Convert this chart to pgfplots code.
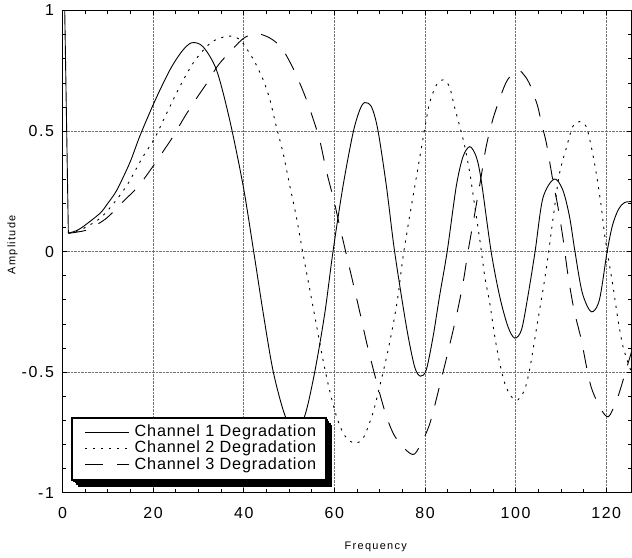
\documentclass[border=0pt]{standalone}
\usepackage{fontspec}
\setmainfont{Liberation Sans}
\usepackage{pgfplots}
\pgfplotsset{compat=1.18}
\usetikzlibrary{shadows}
\newfontfamily\tickfont[LetterSpace=10]{Liberation Sans}
\newfontfamily\legfont[LetterSpace=5]{Liberation Sans}
\newfontfamily\labfont[LetterSpace=12]{Liberation Sans}
\tikzset{legshadow/.style={drop shadow={shadow xshift=#1*1bp, shadow yshift=-#1*1.15bp, opacity=1, fill=black}}}
\makeatletter
\tikzset{nopre/.code={\let\tikz@preactions\pgfutil@empty}}
\makeatother
\begin{document}
\begin{tikzpicture}
\begin{axis}[
  at={(0,0)}, anchor=south west,
  scale only axis, width=569.5bp, height=482.4bp,
  xmin=0, xmax=125.6, ymin=-1, ymax=1,
  xtick={0,20,...,120}, ytick={-1,-0.5,0,0.5,1},
  minor x tick num=3, minor y tick num=4,
  grid=major, major grid style={densely dotted, black!55, line width=0.5bp},
  tick align=inside, major tick length=5bp, minor tick length=3.5bp,
  axis line style={line width=0.8bp},
  every tick/.style={black, line width=0.6bp},
  /pgf/number format/assume math mode=true,
  xticklabel style={font=\tickfont\fontsize{16}{16}\selectfont, yshift=-11bp},
  yticklabel style={font=\tickfont\fontsize{16}{16}\selectfont, xshift=-5bp},
  xlabel={Frequency}, ylabel={Amplitude},
  every axis x label/.style={at={(axis description cs:0.5505,0)}, anchor=center, yshift=-54bp, font=\labfont\fontsize{11}{11}\selectfont},
  every axis y label/.style={at={(axis description cs:0,0.514)}, xshift=-50bp, rotate=90, anchor=center, font=\labfont\fontsize{11}{11}\selectfont},
  legend style={at={(axis description cs:0.0149,0.0245)}, anchor=south west,
    draw=black, line width=1.8bp, fill=white, inner xsep=8bp, inner ysep=7bp,
    font=\legfont\fontsize{16.3}{17}\selectfont,
    nodes={inner xsep=2bp, inner ysep=0.3bp, text height=12bp, text depth=3.5bp},
    /tikz/every odd column/.append style={column sep=3bp},
    legshadow=1.5, legshadow=3, legshadow=4.5, legshadow=6},
  legend cell align=left,
  legend image code/.code={\path[nopre] (0bp,0bp); \draw[nopre, #1, line width=0.9bp] (5bp,0bp) -- (49bp,0bp);},
]
\addplot[forget plot, black, line width=0.9bp] coordinates {(0.5,1.0)(1.3,0.076)};
% Channel 1
\addplot[black, line width=0.9bp, smooth] coordinates {
(1.3,0.076)(3,0.086)(4.6,0.104)(8.3,0.159)(10,0.2)(12,0.255)(14.9,0.37)(17.1,0.48)(20.4,0.625)(23.7,0.753)(26.3,0.829)(28.5,0.866)(31,0.85)(34,0.753)(36.9,0.546)(39.9,0.27)(42.2,0.0)(44.3,-0.255)(46.5,-0.497)(49.1,-0.68)(51.3,-0.74)(53.5,-0.68)(55.7,-0.497)(57.9,-0.255)(59.7,0.0)(61.9,0.27)(64.1,0.49)(65.6,0.587)(66.7,0.618)(68.2,0.60)(69.6,0.505)(71.5,0.27)(73.3,0.0)(75.9,-0.311)(77.7,-0.477)(79.0,-0.517)(80.3,-0.49)(81.8,-0.352)(83.2,-0.187)(84.9,0.0)(86.9,0.27)(88.4,0.394)(89.9,0.435)(91.3,0.394)(92.4,0.297)(94.6,0.0)(96.5,-0.187)(98.3,-0.311)(99.8,-0.359)(101.3,-0.325)(102.7,-0.187)(104.3,0.0)(106.0,0.22)(108.5,0.301)(110.4,0.256)(111.9,0.145)(113.1,0.0)(114.7,-0.17)(116.7,-0.25)(118.5,-0.2)(120.2,0.0)(121.4,0.11)(122.7,0.175)(124,0.203)(125.6,0.207)};
\addlegendentry{Channel 1 Degradation}
% Channel 2
\addplot[black, line width=0.9bp, smooth, dash pattern=on 2.2bp off 5.8bp] coordinates {
(1.3,0.076)(4,0.09)(8.3,0.138)(11.6,0.207)(14.5,0.283)(17.5,0.385)(20.4,0.472)(23,0.574)(25.9,0.684)(28.8,0.781)(31.8,0.85)(34,0.88)(36.9,0.894)(39.1,0.88)(40.6,0.843)(42.4,0.788)(44.3,0.712)(45.8,0.629)(47.2,0.518)(48.7,0.408)(50.2,0.27)(51.6,0.145)(53.0,0.0)(54.5,-0.15)(56,-0.3)(57.5,-0.45)(59,-0.58)(60.5,-0.685)(62,-0.755)(63.5,-0.787)(64.9,-0.795)(66.5,-0.77)(68.5,-0.67)(70.0,-0.56)(71.5,-0.44)(72.9,-0.311)(74.0,-0.19)(75.1,-0.03)(76.6,0.145)(78.5,0.352)(79.9,0.505)(81.0,0.615)(82.5,0.69)(84.0,0.712)(85.4,0.684)(86.5,0.601)(87.7,0.518)(88.8,0.435)(89.9,0.325)(91.0,0.187)(92.1,0.049)(93.2,-0.104)(94.3,-0.214)(95.4,-0.352)(96.5,-0.463)(97.6,-0.546)(99.0,-0.601)(100.5,-0.615)(102.0,-0.573)(103.1,-0.49)(104.2,-0.366)(105.3,-0.242)(106.4,-0.117)(107.3,0.0)(108.5,0.17)(109.7,0.325)(111.2,0.43)(112.6,0.518)(114.1,0.539)(115.6,0.518)(116.7,0.435)(117.8,0.325)(118.9,0.187)(119.6,0.076)(120.4,-0.02)(121.5,-0.145)(122.6,-0.283)(123.7,-0.394)(125.1,-0.477)(125.6,-0.5)};
\addlegendentry{Channel 2 Degradation}
% Channel 3
\addplot[black, line width=0.9bp, smooth, dash pattern=on 18bp off 14bp] coordinates {
(1.3,0.076)(3,0.08)(5.7,0.092)(9.7,0.138)(13,0.2)(16.7,0.27)(19.7,0.346)(22.2,0.415)(24.4,0.477)(27,0.56)(29.6,0.636)(32.1,0.705)(34.4,0.774)(37.7,0.843)(40,0.885)(42.5,0.905)(45,0.893)(47,0.87)(48.7,0.836)(50.9,0.76)(52.7,0.684)(54.2,0.612)(55.5,0.54)(56.8,0.46)(58.3,0.33)(59.8,0.22)(61.2,0.104)(62.5,0.0)(63.8,-0.104)(65.6,-0.25)(67.4,-0.4)(69.6,-0.56)(71.5,-0.684)(73.3,-0.765)(75.9,-0.825)(77.7,-0.84)(79.6,-0.78)(81.0,-0.718)(82.1,-0.643)(83.2,-0.56)(85.1,-0.415)(86.9,-0.27)(88.4,-0.131)(89.5,0.0)(91.0,0.159)(92.3,0.3)(93.5,0.435)(95.0,0.55)(96.8,0.65)(98.0,0.705)(99.4,0.74)(100.8,0.752)(102.4,0.719)(103.5,0.677)(104.9,0.601)(105.7,0.532)(106.8,0.449)(108.2,0.297)(109.3,0.19)(110.5,0.05)(111.5,-0.09)(112.6,-0.214)(113.4,-0.283)(114.5,-0.366)(116.0,-0.511)(117.0,-0.58)(118.9,-0.656)(120.5,-0.685)(122.2,-0.622)(123.3,-0.56)(124.4,-0.49)(125.6,-0.415)};
\addlegendentry{Channel 3 Degradation}
\end{axis}
\pgfresetboundingbox
\path (-62.5bp,-65.1bp) rectangle (569.9bp,492.9bp);
\end{tikzpicture}
\end{document}
